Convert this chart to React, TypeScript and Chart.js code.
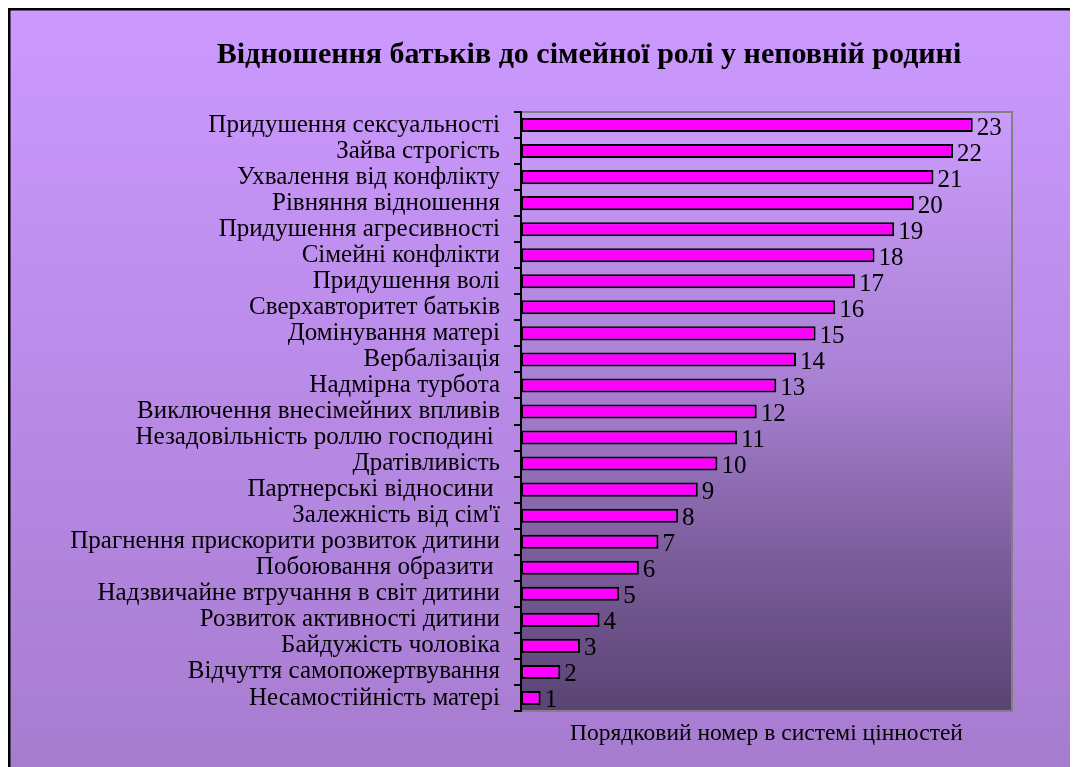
import React, { useEffect, useRef } from 'react';
import { Chart, registerables } from 'chart.js';

Chart.register(...registerables);

const chartTitle = 'Відношення батьків до сімейної ролі у неповній родині';
const axisTitle = 'Порядковий номер в системі цінностей';

const categories = [
  'Придушення сексуальності',
  'Зайва строгість',
  'Ухвалення від конфлікту',
  'Рівняння відношення',
  'Придушення агресивності',
  'Сімейні конфлікти',
  'Придушення волі',
  'Сверхавторитет батьків',
  'Домінування матері',
  'Вербалізація',
  'Надмірна турбота',
  'Виключення внесімейних впливів',
  'Незадовільність роллю господині ',
  'Дратівливість',
  'Партнерські відносини ',
  "Залежність від сім'ї",
  'Прагнення прискорити розвиток дитини',
  'Побоювання образити ',
  'Надзвичайне втручання в світ дитини',
  'Розвиток активності дитини',
  'Байдужість чоловіка',
  'Відчуття самопожертвування',
  'Несамостійність матері',
];

const values = [23, 22, 21, 20, 19, 18, 17, 16, 15, 14, 13, 12, 11, 10, 9, 8, 7, 6, 5, 4, 3, 2, 1];

const axisMin = 0;
const axisMax = 25;

const SERIF = "'Liberation Serif', 'Times New Roman', serif";

const decor = {
  id: 'decor',
  beforeDraw(chart: any) {
    const { ctx, width, height, chartArea: a } = chart;
    ctx.save();
    const g = ctx.createLinearGradient(0, 0, 0, height);
    g.addColorStop(0, '#cc99ff');
    g.addColorStop(1, '#a67ccf');
    ctx.fillStyle = g;
    ctx.fillRect(0, 0, width, height);
    ctx.fillStyle = '#000';
    ctx.fillRect(0, 0, width, 2.5);
    ctx.fillRect(0, 0, 2.5, height);

    const pg = ctx.createLinearGradient(0, a.top, 0, a.bottom);
    pg.addColorStop(0, '#cc9cfc');
    pg.addColorStop(0.45, '#a981d3');
    pg.addColorStop(0.75, '#7a5c9a');
    pg.addColorStop(1, '#5a4473');
    ctx.fillStyle = pg;
    ctx.fillRect(a.left, a.top, a.right - a.left, a.bottom - a.top);
    ctx.strokeStyle = '#808080';
    ctx.lineWidth = 2;
    ctx.strokeRect(a.left, a.top, a.right - a.left, a.bottom - a.top);
    ctx.restore();
  },
  afterDatasetsDraw(chart: any) {
    const { ctx } = chart;
    const meta = chart.getDatasetMeta(0);
    ctx.save();
    ctx.font = `25px ${SERIF}`;
    ctx.fillStyle = '#000';
    ctx.textAlign = 'left';
    ctx.textBaseline = 'alphabetic';
    meta.data.forEach((bar: any, i: number) => {
      ctx.fillText(String(values[i]), bar.x + 4, bar.y + 9.5);
    });
    ctx.restore();
  },
  afterDraw(chart: any) {
    const { ctx, chartArea: a } = chart;
    ctx.save();
    ctx.fillStyle = '#000';
    ctx.textAlign = 'center';
    ctx.textBaseline = 'alphabetic';
    ctx.font = `bold 30px ${SERIF}`;
    ctx.fillText(chartTitle, 581, 55);
    ctx.font = `23.5px ${SERIF}`;
    ctx.fillText(axisTitle, (a.left + a.right) / 2, 732);
    ctx.restore();
  },
};

export default function App() {
  const ref = useRef<HTMLCanvasElement>(null);
  useEffect(() => {
    document.documentElement.style.overflow = 'hidden';
    document.body.style.overflow = 'hidden';
    const chart = new Chart(ref.current!, {
      type: 'bar',
      plugins: [decor],
      data: {
        labels: categories,
        datasets: [
          {
            data: values,
            backgroundColor: '#ff00ff',
            borderColor: '#000000',
            borderWidth: 2,
            borderSkipped: false,
            barPercentage: 0.54,
            categoryPercentage: 1,
          },
        ],
      },
      options: {
        indexAxis: 'y',
        responsive: false,
        animation: false,
        layout: { padding: { top: 104, right: 66, bottom: 56, left: 0 } },
        plugins: {
          legend: { display: false },
          title: { display: false },
          tooltip: { enabled: false },
        },
        scales: {
          x: { display: false, min: axisMin, max: axisMax },
          y: {
            afterFit: (s: any) => {
              s.width = 513;
            },
            grid: {
              display: true,
              drawOnChartArea: false,
              drawTicks: true,
              tickLength: 7,
              color: '#000',
              lineWidth: 2,
              offset: true,
            },
            border: { display: true, color: '#000', width: 2 },
            ticks: {
              autoSkip: false,
              padding: 14,
              color: '#000',
              font: { family: SERIF, size: 25 },
            },
          },
        },
      },
    });
    return () => chart.destroy();
  }, []);
  return <canvas ref={ref} width={1070} height={759} style={{ display: 'block' }} />;
}
